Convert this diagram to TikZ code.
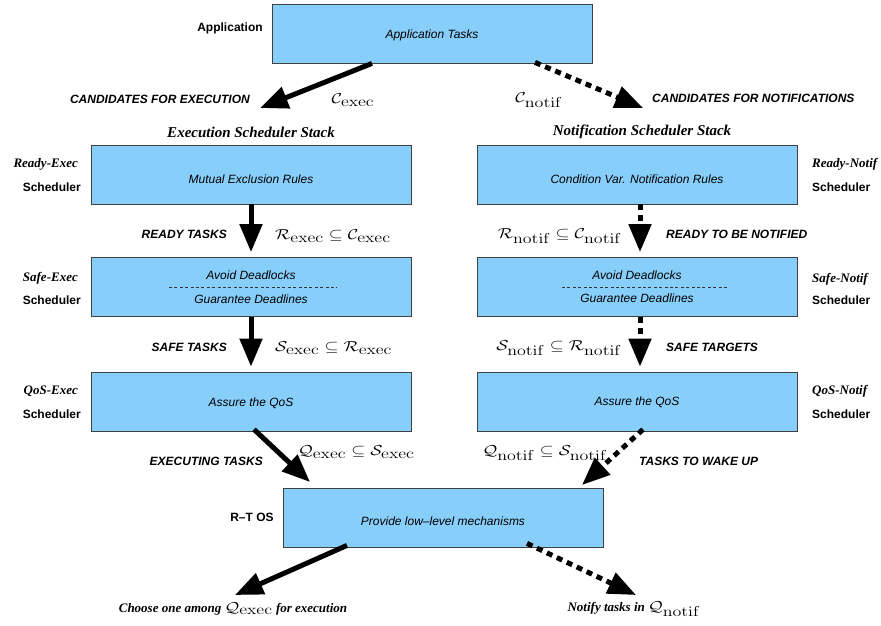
\documentclass[tikz,border=0pt]{standalone}
\usepackage[no-math]{fontspec}
\setmainfont{Liberation Serif}
\setsansfont{Liberation Sans}
\usetikzlibrary{arrows.meta}
\definecolor{boxblue}{RGB}{135,206,250}
\newcommand{\mset}[2]{\mathcal{#1}_{\textstyle\mathrm{#2}}}
\newcommand{\mrel}[1]{\scalebox{1.25}[1]{$#1$}}
\tikzset{
  box/.style={draw=black!75, line width=0.8pt, fill=boxblue, minimum width=320pt, minimum height=59pt, inner sep=0pt},
  boxtext/.style={font=\fontsize{12}{14}\selectfont\sffamily\itshape, inner sep=0pt},
  lab/.style={font=\fontsize{12}{14}\selectfont\sffamily\bfseries\itshape, inner sep=0pt},
  sched/.style={font=\fontsize{12}{14}\selectfont\sffamily\bfseries, inner sep=0pt},
  tlab/.style={font=\fontsize{13}{15}\selectfont\rmfamily\bfseries\itshape, inner sep=0pt},
  hlab/.style={font=\fontsize{15}{17}\selectfont\rmfamily\bfseries\itshape, inner sep=0pt},
  mlab/.style={font=\fontsize{14.4}{16}\selectfont, inner sep=0pt},
  solidarrow/.style={line width=5pt, -{Triangle[length=28pt,width=22pt]}},
  dotarrow/.style={solidarrow, dash pattern=on 6pt off 5pt},
  sep/.style={draw=black!80, line width=0.6pt, dash pattern=on 3pt off 2.4pt}
}
\begin{document}
\begin{tikzpicture}[x=1pt,y=-1pt]
\useasboundingbox (0,0) rectangle (881,625);
% boxes
\node[box] (app) at (432,33.5) {};
\node[boxtext] (appt) at (432,35) {Application Tasks};
\node[box] (r1) at (251,174.5) {};
\node[boxtext] (r1t) at (251,179) {Mutual Exclusion Rules};
\node[box] (s1) at (251,287) {};
\node[boxtext] (s1a) at (251,275) {Avoid Deadlocks};
\node[boxtext] (s1b) at (251,299) {Guarantee Deadlines};
\draw[sep] ([xshift=-82pt]s1.center) -- ([xshift=86pt]s1.center);
\node[box] (q1) at (251,401.5) {};
\node[boxtext] (q1t) at (251,403) {Assure the QoS};
\node[box] (r2) at (637,174.5) {};
\node[boxtext] (r2t) at (637,179) {Condition Var. Notification Rules};
\node[box] (s2) at (637,287) {};
\node[boxtext] (s2a) at (637,275) {Avoid Deadlocks};
\node[boxtext] (s2b) at (637,298) {Guarantee Deadlines};
\draw[sep] ([xshift=-75pt]s2.center) -- ([xshift=91pt]s2.center);
\node[box] (q2) at (637,401.5) {};
\node[boxtext] (q2t) at (637,402) {Assure the QoS};
\node[box] (os) at (443,517.5) {};
\node[boxtext] (ost) at (443,521) {Provide low--level mechanisms};
% side labels
\node[sched] (appl) at (230,28) {Application};
\node[tlab,anchor=east] (l1) at (78,164) {Ready-Exec};
\node[sched,anchor=east] (l1s) at (81,187) {Scheduler};
\node[tlab,anchor=east] (l2) at (78,278) {Safe-Exec};
\node[sched,anchor=east] (l2s) at (81,300) {Scheduler};
\node[tlab,anchor=east] (l3) at (78,391) {QoS-Exec};
\node[sched,anchor=east] (l3s) at (81,414) {Scheduler};
\node[tlab,anchor=west] (m1) at (812,164) {Ready-Notif};
\node[sched,anchor=west] (m1s) at (812,187) {Scheduler};
\node[tlab,anchor=west] (m2) at (812,279) {Safe-Notif};
\node[sched,anchor=west] (m2s) at (812,300) {Scheduler};
\node[tlab,anchor=west] (m3) at (812,391) {QoS-Notif};
\node[sched,anchor=west] (m3s) at (812,414) {Scheduler};
\node[sched] (rtl) at (252,517) {R--T OS};
\node[hlab] (h1) at (251,132) {Execution Scheduler Stack};
\node[hlab] (h2) at (642,132) {Notification Scheduler Stack};
% arrow end points
\coordinate (cexec) at (260,108);
\coordinate (cnotif) at (643,108);
\coordinate (qexec) at (310,482);
\coordinate (qnotif) at (582,485);
\coordinate (choose) at (235,595);
\coordinate (notify) at (636,595);
% arrows
\draw[solidarrow] ([xshift=-60pt]app.south) -- (cexec);
\draw[dotarrow] ([xshift=103pt,yshift=1pt]app.south) -- (cnotif);
\draw[solidarrow, shorten >=5pt] (r1.south) -- (s1.north);
\draw[solidarrow, shorten >=5pt] (s1.south) -- (q1.north);
\draw[dotarrow, shorten >=5pt] ([xshift=3pt]r2.south) -- ([xshift=3pt]s2.north);
\draw[dotarrow, shorten >=5pt] ([xshift=3pt]s2.south) -- ([xshift=3pt]q2.north);
\draw[solidarrow] ([xshift=3pt,yshift=2pt]q1.south) -- (qexec);
\draw[dotarrow] ([xshift=6pt,yshift=2pt]q2.south) -- (qnotif);
\draw[solidarrow] ([xshift=-96pt,yshift=2pt]os.south) -- (choose);
\draw[dotarrow] ([xshift=84pt,yshift=4pt]os.south) -- (notify);
% arrow labels
\node[lab,anchor=east] (t1) at (250,99) {CANDIDATES FOR EXECUTION};
\node[mlab] (t1m) at (353,100) {\mrel{\mset{C}{exec}}};
\node[mlab] (t2m) at (539,100) {\mrel{\mset{C}{notif}}};
\node[lab,anchor=west] (t2) at (652,98) {CANDIDATES FOR NOTIFICATIONS};
\node[lab,anchor=east] (t3) at (227,234) {READY TASKS};
\node[mlab,anchor=west] (t3m) at (275,236) {\mrel{\mset{R}{exec}\subseteq\mset{C}{exec}}};
\node[lab,anchor=east] (t4) at (227,347) {SAFE TASKS};
\node[mlab,anchor=west] (t4m) at (275,348) {\mrel{\mset{S}{exec}\subseteq\mset{R}{exec}}};
\node[mlab,anchor=east] (t5m) at (622,236) {\mrel{\mset{R}{notif}\subseteq\mset{C}{notif}}};
\node[lab,anchor=west] (t5) at (666,234) {READY TO BE NOTIFIED};
\node[mlab,anchor=east] (t6m) at (622,348) {\mrel{\mset{S}{notif}\subseteq\mset{R}{notif}}};
\node[lab,anchor=west] (t6) at (666,347) {SAFE TARGETS};
\node[lab,anchor=east] (t7) at (263,461) {EXECUTING TASKS};
\node[mlab,anchor=west] (t7m) at (298,452) {\mrel{\mset{Q}{exec}\subseteq\mset{S}{exec}}};
\node[mlab] (t8m) at (545,453) {\mrel{\mset{Q}{notif}\subseteq\mset{S}{notif}}};
\node[lab,anchor=west] (t8) at (639,461) {TASKS TO WAKE UP};
\node[tlab] (t9) at (233,609) {Choose one among {\fontsize{14.4}{16}\selectfont\mrel{\mset{Q}{exec}}} for execution};
\node[tlab] (t10) at (634,609) {Notify tasks in {\fontsize{14.4}{16}\selectfont\mrel{\mset{Q}{notif}}}};
\end{tikzpicture}
\end{document}
